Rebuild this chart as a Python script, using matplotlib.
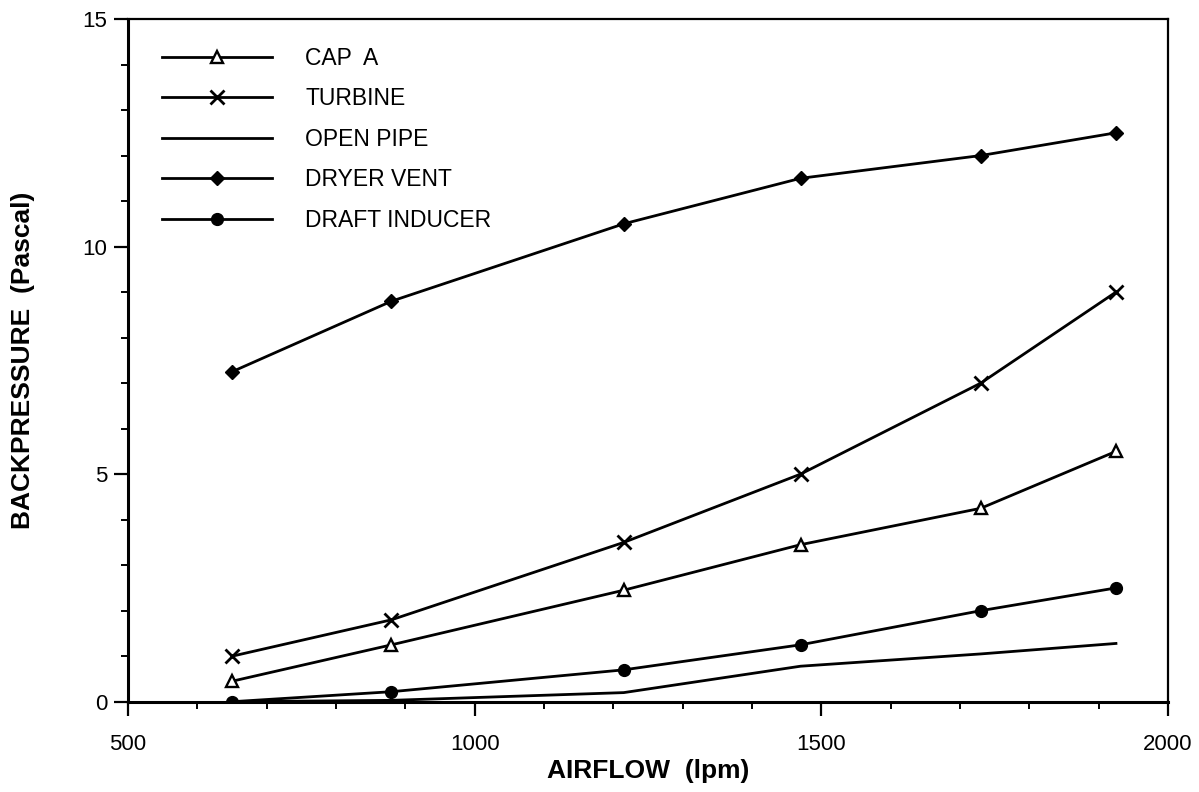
import matplotlib
matplotlib.use("Agg")
import matplotlib.pyplot as plt
from matplotlib.ticker import MultipleLocator

# Airflow test points (lpm) and measured backpressure (Pa) per vent type
airflow = [650, 880, 1215, 1470, 1730, 1925]
cap_a = [0.45, 1.25, 2.45, 3.45, 4.25, 5.5]
turbine = [1.0, 1.8, 3.5, 5.0, 7.0, 9.0]
open_pipe = [0.0, 0.03, 0.2, 0.78, 1.05, 1.28]
dryer_vent = [7.25, 8.8, 10.5, 11.5, 12.0, 12.5]
draft_inducer = [0.0, 0.22, 0.7, 1.25, 2.0, 2.5]

series_labels = ["CAP  A", "TURBINE", "OPEN PIPE", "DRYER VENT", "DRAFT INDUCER"]
x_ticks = [500, 1000, 1500, 2000]
y_ticks = [0, 5, 10, 15]

plt.rcParams["font.family"] = ["Liberation Sans", "DejaVu Sans"]

fig = plt.figure(figsize=(11.99, 7.92), dpi=100)
ax = fig.add_axes([0.1068, 0.114, 0.8673, 0.862])

lw = 2.0
ax.plot(airflow, cap_a, color="black", lw=lw, marker="^", ms=8,
        mfc="white", mec="black", mew=1.7, label=series_labels[0], zorder=3)
ax.plot(airflow, turbine, color="black", lw=lw, marker="x", ms=10,
        mew=2.0, label=series_labels[1], zorder=3)
ax.plot(airflow, open_pipe, color="black", lw=lw, label=series_labels[2], zorder=3)
ax.plot(airflow, dryer_vent, color="black", lw=lw, marker="D", ms=7,
        mfc="black", mec="black", label=series_labels[3], zorder=3)
ax.plot(airflow, draft_inducer, color="black", lw=lw, marker="o", ms=8.5,
        mfc="black", mec="black", label=series_labels[4], zorder=3)

ax.set_xlim(500, 2000)
ax.set_ylim(0, 15)
ax.set_xticks(x_ticks)
ax.set_yticks(y_ticks)
ax.xaxis.set_minor_locator(MultipleLocator(100))
ax.yaxis.set_minor_locator(MultipleLocator(1))

ax.tick_params(axis="both", which="major", direction="out", length=10,
               width=1.6, labelsize=16, colors="black")
ax.tick_params(axis="both", which="minor", direction="out", length=5, width=1.4)
ax.tick_params(axis="x", which="major", pad=13)
ax.tick_params(axis="y", which="major", pad=5)

for side in ["left", "bottom"]:
    ax.spines[side].set_linewidth(2.2)
for side in ["top", "right"]:
    ax.spines[side].set_linewidth(1.6)

ax.set_xlabel("AIRFLOW  (lpm)", fontsize=19, fontweight="bold", labelpad=3)
ax.set_ylabel("BACKPRESSURE  (Pascal)", fontsize=19, fontweight="bold", labelpad=34)

leg = ax.legend(loc="upper left", bbox_to_anchor=(0.0327, 0.959),
                frameon=False, fontsize=16.5,
                handlelength=4.8, handletextpad=1.45, labelspacing=0.76,
                borderaxespad=0.0, borderpad=0.0)

fig.savefig("out.png", dpi=100, facecolor="white")
